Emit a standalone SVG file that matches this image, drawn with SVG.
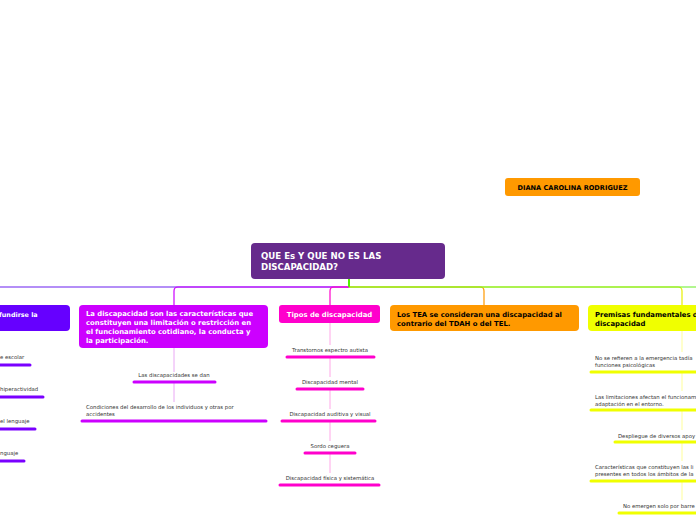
<svg xmlns="http://www.w3.org/2000/svg" width="696" height="520" viewBox="0 0 696 520">
<style>
.nt{font-family:"DejaVu Sans",Verdana,sans-serif;font-weight:bold;font-size:6.85px}
.ct{font-family:"DejaVu Sans",Verdana,sans-serif;font-size:5.35px;fill:#333}
.ul{stroke-width:3;stroke-linecap:round;fill:none}
.br{fill:none;stroke-width:1.2}
.sub{fill:none;stroke-width:1}
</style>
<rect width="696" height="520" fill="#fff"/>
<g id="connectors">
<path class="br" stroke="#6a1ef0" d="M349 287 H0"/>
<path class="br" stroke="#cc00ff" d="M349 287 H178 Q174 287 174 291 V305"/>
<path class="br" stroke="#ff00cc" d="M349 287 H334 Q330 287 330 291 V305"/>
<path class="br" stroke="#ff9900" d="M349 287 H480 Q484 287 484 291 V305"/>
<path class="br" stroke="#e8f000" d="M349 287 H678 Q682 287 682 291 V305"/>
<path class="br" stroke="#66ee22" d="M349 287 H696"/>
<path stroke="#55ee00" stroke-width="2" d="M349 279 V287"/>
<path class="sub" stroke="#eaa8f5" d="M174 348 V372 M174 382 V402"/>
<path class="sub" stroke="#ffa8e8" d="M330 323 V345 M330 357 V377 M330 389 V409 M330 421 V441 M330 453 V473"/>
<path class="sub" stroke="#ffff99" d="M682 331 V352 M682 372 V391 M682 410 V430 M682 442 V461 M682 481 V500"/>
<path class="ul" stroke="#7a00ff" d="M-5 365 H30 M-5 397 H43 M-5 429 H35 M-5 461 H24"/>
<path class="ul" stroke="#cc00ff" d="M134 382 H215 M82 421 H266"/>
<path class="ul" stroke="#ff00cc" d="M287 357 H374 M297 389 H363 M282 421 H375 M305 453 H355 M280 485 H379"/>
<path class="ul" stroke="#f0ff00" d="M591 372 H700 M591 410 H700 M615 442 H700 M591 481 H700 M619 513 H700"/>
</g>
<g id="diana">
<rect x="505" y="178" width="135" height="18" rx="3" fill="#ff9900"/>
<text class="nt" x="572.5" y="190" text-anchor="middle" fill="#000" style="font-size:6.6px">DIANA CAROLINA RODRIGUEZ</text>
</g>
<g id="central">
<rect x="251" y="243" width="194" height="36" rx="4" fill="#662a8c"/>
<text class="nt" x="261" y="259" fill="#fff" style="font-size:8.6px">QUE Es Y QUE NO ES LAS</text>
<text class="nt" x="261" y="270" fill="#fff" style="font-size:8.6px">DISCAPACIDAD?</text>
</g>
<g id="left-node">
<rect x="-20" y="305" width="90" height="26" rx="4" fill="#6600ff"/>
<text class="nt" x="-1" y="317" fill="#fff" style="font-size:6.4px">fundirse la</text>
<text class="ct" x="0" y="359">e escolar</text>
<text class="ct" x="0" y="391">hiperactividad</text>
<text class="ct" x="0" y="423">el lenguaje</text>
<text class="ct" x="0" y="455">nguaje</text>
</g>
<g id="discapacidad-node">
<rect x="79" y="305" width="189" height="43" rx="4" fill="#cc00ff"/>
<text class="nt" x="86" y="316" fill="#fff">La discapacidad son las características que</text>
<text class="nt" x="86" y="325" fill="#fff">constituyen una limitación o restricción en</text>
<text class="nt" x="86" y="334" fill="#fff">el funcionamiento cotidiano, la conducta y</text>
<text class="nt" x="86" y="343" fill="#fff">la participación.</text>
<text class="ct" x="174" y="377" text-anchor="middle">Las discapacidades se dan</text>
<text class="ct" x="86" y="409">Condiciones del desarrollo de los individuos y otras por</text>
<text class="ct" x="86" y="416">accidentes</text>
</g>
<g id="tipos-node">
<rect x="279" y="305" width="101" height="18" rx="3" fill="#ff00cc"/>
<text class="nt" x="329.5" y="317" text-anchor="middle" fill="#fff">Tipos de discapacidad</text>
<text class="ct" x="330" y="352" text-anchor="middle">Transtornos espectro autista</text>
<text class="ct" x="330" y="384" text-anchor="middle">Discapacidad mental</text>
<text class="ct" x="330" y="416" text-anchor="middle">Discapacidad auditiva y visual</text>
<text class="ct" x="330" y="448" text-anchor="middle">Sordo ceguera</text>
<text class="ct" x="330" y="480" text-anchor="middle">Discapacidad física y sistemática</text>
</g>
<g id="tea-node">
<rect x="390" y="305" width="189" height="26" rx="4" fill="#ff9900"/>
<text class="nt" x="397" y="317" fill="#000">Los TEA se consideran una discapacidad al</text>
<text class="nt" x="397" y="326" fill="#000">contrario del TDAH o del TEL.</text>
</g>
<g id="premisas-node">
<rect x="588" y="305" width="120" height="26" rx="4" fill="#f0ff00"/>
<text class="nt" x="595" y="317" fill="#000">Premisas fundamentales de</text>
<text class="nt" x="595" y="326" fill="#000">discapacidad</text>
<text class="ct" x="595" y="360">No se refieren a la emergencia tadía</text>
<text class="ct" x="595" y="367">funciones psicológicas</text>
<text class="ct" x="595" y="399">Las limitaciones afectan el funcionam</text>
<text class="ct" x="595" y="406">adaptación en el entorno.</text>
<text class="ct" x="618" y="438">Despliegue de diversos apoy</text>
<text class="ct" x="595" y="469">Características que constituyen las li</text>
<text class="ct" x="595" y="476">presentes en todos los ámbitos de la</text>
<text class="ct" x="623" y="508">No emergen solo por barre</text>
</g>
</svg>
